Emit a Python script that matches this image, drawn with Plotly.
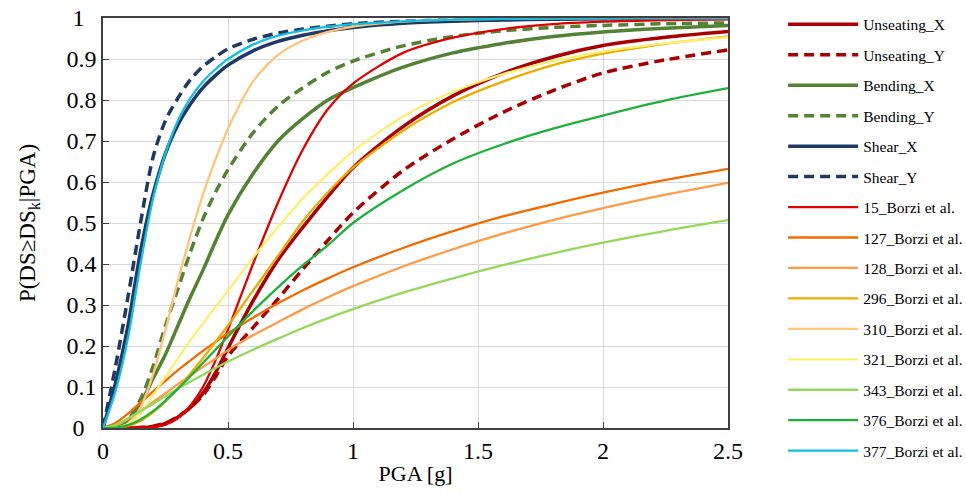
import plotly.graph_objects as go

# PGA sampling points [g]
pga = [0, 0.05, 0.1, 0.15, 0.2, 0.25, 0.3, 0.35, 0.4, 0.45, 0.5, 0.6, 0.7, 0.8,
       0.9, 1.0, 1.2, 1.4, 1.6, 1.8, 2.0, 2.25, 2.5]

# Exceedance probabilities P(DS >= DSk | PGA)
unseating_x = [0, 0, 0, 0.001, 0.004, 0.011, 0.027, 0.05, 0.085, 0.135, 0.195, 0.31, 0.41, 0.49,
               0.565, 0.635, 0.735, 0.81, 0.865, 0.905, 0.933, 0.953, 0.967]
unseating_y = [0, 0, 0, 0.001, 0.004, 0.012, 0.028, 0.05, 0.08, 0.125, 0.175, 0.245, 0.315, 0.388,
               0.458, 0.525, 0.628, 0.705, 0.77, 0.823, 0.866, 0.898, 0.922]
bending_x = [0, 0.003, 0.02, 0.06, 0.12, 0.18, 0.25, 0.32, 0.385, 0.455, 0.52, 0.62, 0.70, 0.755,
             0.80, 0.83, 0.88, 0.915, 0.938, 0.955, 0.966, 0.975, 0.982]
bending_y = [0, 0, 0.02, 0.07, 0.15, 0.25, 0.34, 0.43, 0.51, 0.575, 0.63, 0.72, 0.785, 0.83,
             0.868, 0.895, 0.932, 0.955, 0.969, 0.977, 0.982, 0.986, 0.988]
shear_x = [0, 0.11, 0.25, 0.43, 0.57, 0.67, 0.74, 0.79, 0.83, 0.86, 0.885, 0.92, 0.943, 0.958,
           0.969, 0.977, 0.987, 0.992, 0.995, 0.997, 0.998, 0.999, 0.999]
shear_y = [0, 0.15, 0.32, 0.50, 0.66, 0.75, 0.805, 0.85, 0.882, 0.905, 0.925, 0.948, 0.963, 0.973,
           0.98, 0.986, 0.992, 0.995, 0.997, 0.998, 0.999, 0.999, 1.0]
borzi_15 = [0, 0, 0, 0.001, 0.002, 0.008, 0.024, 0.055, 0.10, 0.165, 0.24, 0.40, 0.55, 0.68,
            0.778, 0.84, 0.915, 0.952, 0.973, 0.985, 0.991, 0.995, 0.997]
borzi_127 = [0, 0.012, 0.035, 0.062, 0.089, 0.115, 0.141, 0.165, 0.188, 0.21, 0.231, 0.269, 0.304, 0.336,
             0.365, 0.392, 0.439, 0.48, 0.516, 0.546, 0.574, 0.605, 0.632]
borzi_128 = [0, 0.006, 0.022, 0.042, 0.063, 0.085, 0.107, 0.128, 0.149, 0.169, 0.19, 0.226, 0.258, 0.29,
             0.319, 0.346, 0.394, 0.436, 0.474, 0.507, 0.536, 0.569, 0.598]
borzi_296 = [0, 0.001, 0.005, 0.017, 0.038, 0.065, 0.097, 0.133, 0.17, 0.21, 0.25, 0.335, 0.42, 0.505,
             0.575, 0.635, 0.725, 0.795, 0.845, 0.885, 0.913, 0.937, 0.955]
borzi_310 = [0, 0, 0.01, 0.05, 0.13, 0.24, 0.36, 0.47, 0.57, 0.655, 0.73, 0.845, 0.91, 0.945,
             0.966, 0.979, 0.991, 0.996, 0.998, 0.999, 0.999, 1.0, 1.0]
borzi_321 = [0, 0.001, 0.01, 0.035, 0.08, 0.125, 0.17, 0.215, 0.255, 0.295, 0.335, 0.415, 0.49, 0.56,
             0.62, 0.675, 0.76, 0.82, 0.863, 0.895, 0.918, 0.938, 0.953]
borzi_343 = [0, 0.008, 0.023, 0.041, 0.059, 0.078, 0.096, 0.113, 0.13, 0.146, 0.162, 0.191, 0.218, 0.244,
             0.268, 0.29, 0.33, 0.365, 0.397, 0.426, 0.452, 0.481, 0.507]
borzi_376 = [0, 0.001, 0.007, 0.021, 0.041, 0.067, 0.096, 0.127, 0.159, 0.191, 0.223, 0.285, 0.343, 0.397,
             0.446, 0.50, 0.58, 0.645, 0.692, 0.73, 0.762, 0.799, 0.829]
borzi_377 = [0, 0.09, 0.22, 0.40, 0.56, 0.67, 0.75, 0.805, 0.845, 0.875, 0.90, 0.935, 0.957, 0.97,
             0.979, 0.985, 0.992, 0.996, 0.998, 0.999, 0.999, 1.0, 1.0]

x_ticks = [0, 0.5, 1, 1.5, 2, 2.5]
x_tick_text = ["0", "0.5", "1", "1.5", "2", "2.5"]
y_ticks = [0, 0.1, 0.2, 0.3, 0.4, 0.5, 0.6, 0.7, 0.8, 0.9, 1]
# single-digit labels padded with a figure space so they sit centred over the decimals
y_tick_text = ["0\u2007", "0.1", "0.2", "0.3", "0.4", "0.5", "0.6", "0.7", "0.8", "0.9", "1\u2007"]

series = [
    ("Unseating_X", unseating_x, "#A80000", 3.5, "solid"),
    ("Unseating_Y", unseating_y, "#A80000", 3.5, "10px,6px"),
    ("Bending_X", bending_x, "#548235", 3.5, "solid"),
    ("Bending_Y", bending_y, "#548235", 3.5, "10px,6px"),
    ("Shear_X", shear_x, "#1F3864", 3.5, "solid"),
    ("Shear_Y", shear_y, "#1F3864", 3.5, "10px,6px"),
    ("15_Borzi et al.", borzi_15, "#E00000", 2.3, "solid"),
    ("127_Borzi et al.", borzi_127, "#F26B00", 2.3, "solid"),
    ("128_Borzi et al.", borzi_128, "#FF9A45", 2.3, "solid"),
    ("296_Borzi et al.", borzi_296, "#EBAC00", 2.3, "solid"),
    ("310_Borzi et al.", borzi_310, "#FFC37A", 2.3, "solid"),
    ("321_Borzi et al.", borzi_321, "#FFEE70", 2.3, "solid"),
    ("343_Borzi et al.", borzi_343, "#93D85A", 2.3, "solid"),
    ("376_Borzi et al.", borzi_376, "#1DB03A", 2.3, "solid"),
    ("377_Borzi et al.", borzi_377, "#13BEE0", 2.3, "solid"),
]

serif = "Liberation Serif, Times New Roman, serif"

fig = go.Figure()
for i, (name, vals, color, width, dash) in enumerate(series):
    fig.add_trace(go.Scatter(
        x=pga, y=vals, name=name, mode="lines",
        line=dict(color=color, width=width, dash=dash, shape="spline", smoothing=0.8),
        legendgroup=f"g{i}",
    ))

fig.update_layout(
    width=966, height=492,
    margin=dict(l=103, r=238, t=18, b=64, autoexpand=False),
    paper_bgcolor="white", plot_bgcolor="white",
    font=dict(family=serif, size=22, color="black"),
    showlegend=True,
    legend=dict(
        x=1.0882, xanchor="left", y=1.025, yanchor="top",
        font=dict(family=serif, size=15.5, color="black"),
        traceorder="grouped", tracegroupgap=7.3, itemwidth=70,
        bgcolor="rgba(0,0,0,0)", maxheight=1.0,
    ),
    xaxis=dict(
        range=[0, 2.5], tickvals=x_ticks, ticktext=x_tick_text,
        showgrid=True, gridcolor="#D9D9D9", gridwidth=1.3,
        showline=True, linecolor="#404040", linewidth=1.5, mirror=True,
        ticks="inside", ticklen=6, tickcolor="#404040",
        zeroline=False,
        title=dict(text="PGA [g]", font=dict(size=22), standoff=3),
        tickfont=dict(size=24),
    ),
    yaxis=dict(
        range=[0, 1], tickvals=y_ticks, ticktext=y_tick_text,
        showgrid=True, gridcolor="#D9D9D9", gridwidth=1.3,
        showline=True, linecolor="#404040", linewidth=1.5, mirror=True,
        ticks="inside", ticklen=6, tickcolor="#404040",
        zeroline=False,
        title=dict(text="P(DS≥DS<sub>k</sub>|PGA)", font=dict(size=23), standoff=24),
        tickfont=dict(size=24),
    ),
)

fig.write_html("out.html")
